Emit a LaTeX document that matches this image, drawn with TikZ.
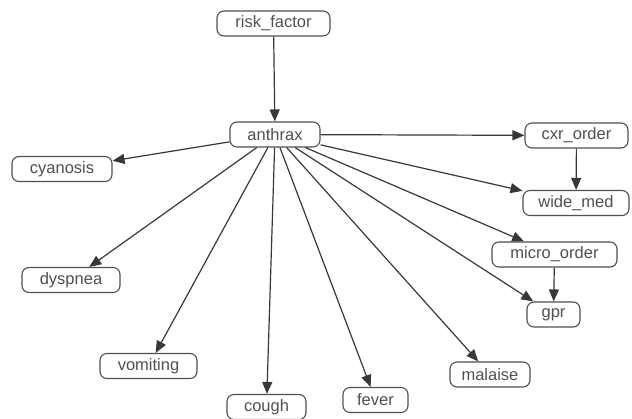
\documentclass[tikz,border=0pt]{standalone}
\usepackage{fontspec}
\setmainfont{Liberation Sans}
\usetikzlibrary{arrows.meta}
\definecolor{txt}{HTML}{505050}
\definecolor{edge}{HTML}{383838}
\begin{document}
\begin{tikzpicture}[x=1pt,y=-1pt,
  nd/.style={draw=txt, line width=1.1pt, rounded corners=7pt, fill=white,
    text=txt, inner sep=0pt, minimum height=25pt, minimum width=#1,
    font=\fontsize{16.5}{18}\selectfont},
  arr/.style={draw=edge, line width=1.2pt, -{Triangle[length=12pt,width=10pt]}}]
\useasboundingbox (0,0) rectangle (632,419);
\node[nd=113pt] (risk) at (273.5,23.5) {risk\_factor};
\node[nd=90pt] (anthrax) at (275,134.5) {anthrax};
\node[nd=100pt] (cyanosis) at (62,169) {cyanosis};
\node[nd=103pt] (cxr) at (576.5,135.5) {cxr\_order};
\node[nd=106pt] (wide) at (576,203) {wide\_med};
\node[nd=125pt] (micro) at (554.5,254.5) {micro\_order};
\node[nd=53pt] (gpr) at (553.5,314.5) {gpr};
\node[nd=98pt] (dyspnea) at (71,280) {dyspnea};
\node[nd=97pt] (vomiting) at (148.5,366) {vomiting};
\node[nd=79pt] (cough) at (266.5,407) {cough};
\node[nd=65pt] (fever) at (375.5,400) {fever};
\node[nd=80pt] (malaise) at (490,374.5) {malaise};
\draw[arr] (risk) -- (anthrax);
\draw[arr] (anthrax) -- (cyanosis);
\draw[arr] (anthrax) -- (dyspnea);
\draw[arr] (anthrax) -- (vomiting);
\draw[arr] (anthrax) -- (cough);
\draw[arr] (anthrax) -- (fever);
\draw[arr] (anthrax) -- (malaise);
\draw[arr] (anthrax) -- (gpr);
\draw[arr] (anthrax) -- (micro);
\draw[arr] (anthrax) -- (wide);
\draw[arr] (anthrax) -- (cxr);
\draw[arr] (cxr) -- (wide);
\draw[arr] (micro) -- (gpr);
\end{tikzpicture}
\end{document}
